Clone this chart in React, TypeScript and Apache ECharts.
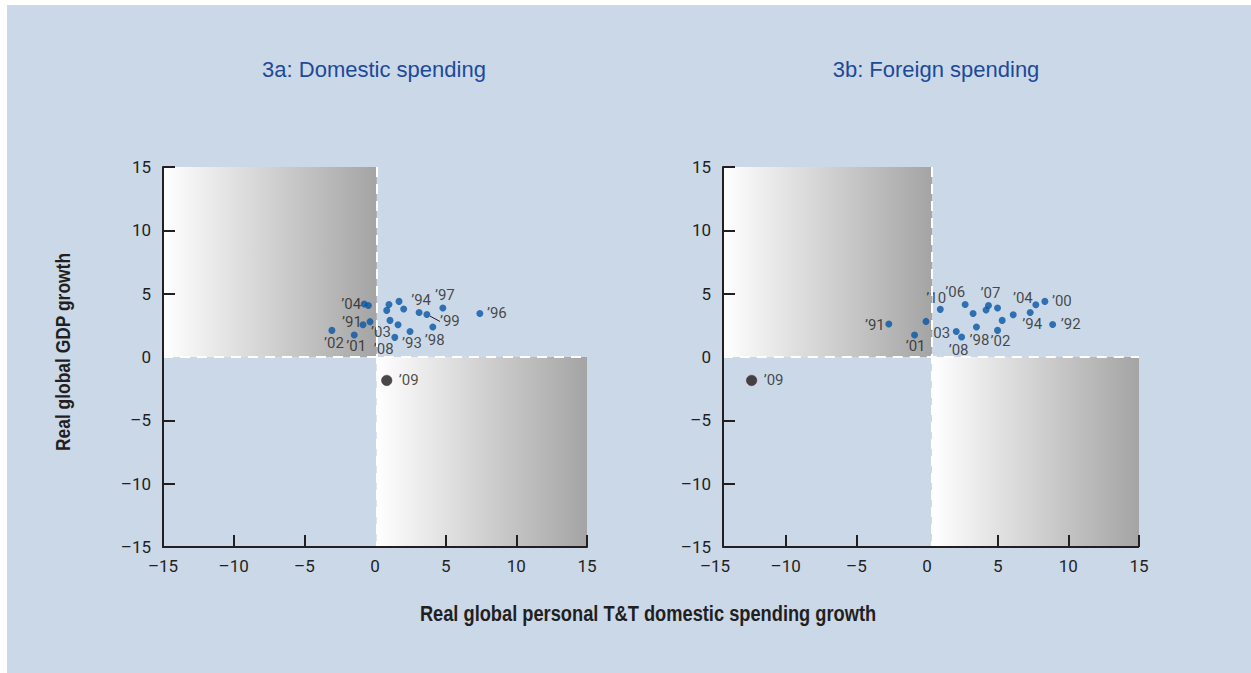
import React, { useEffect, useRef } from "react";
import * as echarts from "echarts";

// ---------- data ----------
// 3a: Domestic spending (x = real global personal T&T domestic spending growth, y = real global GDP growth)
const domX = [-0.76, -0.47, 0.99, 1.7, 0.83, 2.03, 3.12, 3.67, 4.8, 7.42, -0.35, -0.85, 1.06, 1.63, 2.48, 4.09, -3.05, -1.47, 1.4];
const domY = [4.18, 4.07, 4.15, 4.39, 3.68, 3.79, 3.52, 3.36, 3.87, 3.44, 2.79, 2.55, 2.89, 2.55, 2.02, 2.37, 2.1, 1.74, 1.55];
const domLabels = ["’04", "", "", "", "", "", "’94", "’99", "’97", "’96", "", "’91", "’03", "", "’93", "’98", "’02", "’01", "’08"];
const domCrisisX = [0.83];
const domCrisisY = [-1.85];
const domCrisisLabels = ["’09"];

// 3b: Foreign spending
const forX = [-2.7, -0.88, -0.07, 0.94, 2.7, 3.26, 2.07, 2.45, 3.5, 4.35, 4.18, 4.99, 5.32, 4.99, 6.1, 7.3, 7.7, 8.34, 8.89];
const forY = [2.6, 1.74, 2.81, 3.76, 4.15, 3.44, 2.02, 1.58, 2.37, 4.07, 3.71, 3.87, 2.89, 2.1, 3.34, 3.52, 4.13, 4.39, 2.57];
const forLabels = ["’91", "’01", "", "’10", "’06", "", "’03", "’08", "’98", "’07", "", "", "", "’02", "", "’94", "’04", "’00", "’92"];
const forCrisisX = [-12.41];
const forCrisisY = [-1.85];
const forCrisisLabels = ["’09"];

const axisMin = -15;
const axisMax = 15;
const axisStep = 5;
const tickValues = [-10, -5, 5, 10, 15];

const titles = ["3a: Domestic spending", "3b: Foreign spending"];
const yTitle = "Real global GDP growth";
const xTitle = "Real global personal T&T domestic spending growth";

// ---------- layout / style (not data) ----------
const domLabelOffsets: Record<string, [number, number]> = {
  "’04": [-13, 0], "’91": [-11, -3], "’02": [2, 13], "’01": [2, 11], "’03": [-9, 12],
  "’08": [-11, 12], "’93": [2, 12], "’98": [2, 13], "’94": [2, -12], "’97": [2, -13],
  "’99": [23, 7], "’96": [17, 0], "’09": [22, 0],
};
const forLabelOffsets: Record<string, [number, number]> = {
  "’91": [-14, 1], "’01": [1, 11], "’10": [-4, -11], "’06": [-10, -12], "’03": [-16, 2],
  "’08": [-3, 13], "’98": [3, 13], "’02": [3, 11], "’07": [2, -12], "’04": [-13, -7],
  "’00": [17, 0], "’94": [2, 12], "’92": [18, 0], "’09": [22, 0],
};
const leaderLabels = ["’99"];

const BG = "#cbd8e8";
const INK = "#231f20";
const BLUE = "#0856a5";
const TITLE_BLUE = "#1d4a98";
const TICKFONT = "Roboto, 'Liberation Sans', Arial, sans-serif";
const SANS = "'Liberation Sans', Arial, sans-serif";

const fmt = (v: number) => (v < 0 ? "–" + Math.abs(v) : String(v));

function pointData(xs: number[], ys: number[], labels: string[]) {
  return xs.map((x, i) => ({
    name: labels[i],
    value: [x, ys[i]],
    label: { show: labels[i] !== "" },
    labelLine: { show: leaderLabels.includes(labels[i]) },
  }));
}

function panelSeries(
  idx: number,
  xs: number[], ys: number[], labels: string[],
  cx: number[], cy: number[], cl: string[],
  offsets: Record<string, [number, number]>,
  splitX: number, axisStart: number, drawBottomAxis: boolean
) {
  const shade = new echarts.graphic.LinearGradient(0, 0, 1, 0, [
    { offset: 0, color: "#ffffff" },
    { offset: 1, color: "#a4a4a4" },
  ]);
  const dashed = { color: "#ffffff", width: 2, type: [10, 7] as any };
  const lines: any[] = [
    [{ coord: [axisStart, 0], lineStyle: dashed }, { coord: [axisMax, 0] }],
    [{ coord: [splitX, axisMax], lineStyle: dashed }, { coord: [splitX, axisMin] }],
  ];
  if (drawBottomAxis) {
    lines.push([
      { coord: [axisStart, axisMin], lineStyle: { color: INK, width: 2, type: "solid" } },
      { coord: [axisMax, axisMin] },
    ]);
  }
  const labelCommon = {
    position: "inside",
    formatter: "{b}",
    color: INK,
    fontFamily: TICKFONT,
    fontSize: 15,
    lineHeight: 13,
    align: "center",
    verticalAlign: "middle",
  };
  const layoutFor = (lbls: string[]) => (params: any) => {
    const off = offsets[lbls[params.dataIndex]] || [0, 0];
    return { dx: off[0], dy: off[1] };
  };
  return [
    {
      type: "scatter", xAxisIndex: idx, yAxisIndex: idx, data: [], silent: true, z: 1, clip: false,
      markArea: {
        silent: true,
        itemStyle: { color: shade },
        data: [
          [{ coord: [axisStart, axisMax] }, { coord: [splitX, 0] }],
          [{ coord: [splitX, 0] }, { coord: [axisMax, axisMin] }],
        ],
      },
    },
    {
      type: "scatter", xAxisIndex: idx, yAxisIndex: idx, data: [], silent: true, z: 2, clip: false,
      markLine: { silent: true, symbol: ["none", "none"], label: { show: false }, data: lines },
    },
    {
      type: "scatter", xAxisIndex: idx, yAxisIndex: idx, z: 3, clip: false,
      symbolSize: 7,
      itemStyle: { color: BLUE },
      label: labelCommon,
      labelLayout: layoutFor(labels),
      labelLine: { lineStyle: { color: INK, width: 1 } },
      data: pointData(xs, ys, labels),
    },
    {
      type: "scatter", xAxisIndex: idx, yAxisIndex: idx, z: 3, clip: false,
      symbolSize: 10.5,
      itemStyle: { color: "#1e1a1b", borderColor: "#5a1f24", borderWidth: 0.6 },
      label: labelCommon,
      labelLayout: layoutFor(cl),
      data: pointData(cx, cy, cl),
    },
  ];
}

function makeXAxis(idx: number, showLine: boolean) {
  return {
    type: "value", gridIndex: idx, min: axisMin, max: axisMax, interval: axisStep, z: 10,
    axisLine: { show: showLine, onZero: false, lineStyle: { color: INK, width: 2 } },
    axisTick: { show: true, inside: true, length: 12, customValues: tickValues, lineStyle: { color: INK, width: 2 } },
    axisLabel: { color: INK, fontFamily: TICKFONT, fontSize: 17, margin: 10, formatter: fmt },
    splitLine: { show: false },
  };
}
function makeYAxis(idx: number, offset: number) {
  return {
    type: "value", gridIndex: idx, min: axisMin, max: axisMax, interval: axisStep, z: 10, offset,
    axisLine: { show: true, onZero: false, lineStyle: { color: INK, width: 2 } },
    axisTick: { show: true, inside: true, length: 12, customValues: tickValues, lineStyle: { color: INK, width: 2 } },
    axisLabel: { color: INK, fontFamily: TICKFONT, fontSize: 17, margin: 12, formatter: fmt },
    splitLine: { show: false },
  };
}

export default function App() {
  const ref = useRef<HTMLDivElement>(null);
  useEffect(() => {
    if (!ref.current) return;
    const chart = echarts.init(ref.current, undefined, { renderer: "svg" });
    const rightAxisStart = -14.45;
    chart.setOption({
      animation: false,
      backgroundColor: BG,
      grid: [
        { left: 156, top: 162, width: 424, height: 380 },
        { left: 708, top: 162, width: 424, height: 380 },
      ],
      xAxis: [makeXAxis(0, true), makeXAxis(1, false)],
      yAxis: [makeYAxis(0, 0), makeYAxis(1, -8)],
      graphic: [
        { type: "text", x: 367, y: 64, style: { text: titles[0], fill: TITLE_BLUE, font: `22px ${SANS}`, textAlign: "center", textVerticalAlign: "middle" } },
        { type: "text", x: 929, y: 64, style: { text: titles[1], fill: TITLE_BLUE, font: `22px ${SANS}`, textAlign: "center", textVerticalAlign: "middle" } },
        { type: "text", x: 641, y: 608, scaleX: 0.83, style: { text: xTitle, fill: INK, font: `bold 22px ${SANS}`, textAlign: "center", textVerticalAlign: "middle" } },
        { type: "text", x: 56, y: 347, rotation: Math.PI / 2, scaleX: 0.83, style: { text: yTitle, fill: INK, font: `bold 21px ${SANS}`, textAlign: "center", textVerticalAlign: "middle" } },
      ],
      series: [
        ...panelSeries(0, domX, domY, domLabels, domCrisisX, domCrisisY, domCrisisLabels, domLabelOffsets, 0.12, axisMin, false),
        ...panelSeries(1, forX, forY, forLabels, forCrisisX, forCrisisY, forCrisisLabels, forLabelOffsets, 0.35, rightAxisStart, true),
      ],
    });
    return () => chart.dispose();
  }, []);
  return (
    <div
      ref={ref}
      style={{ position: "absolute", left: 7, top: 5, width: 1244, height: 668, background: BG }}
    />
  );
}
